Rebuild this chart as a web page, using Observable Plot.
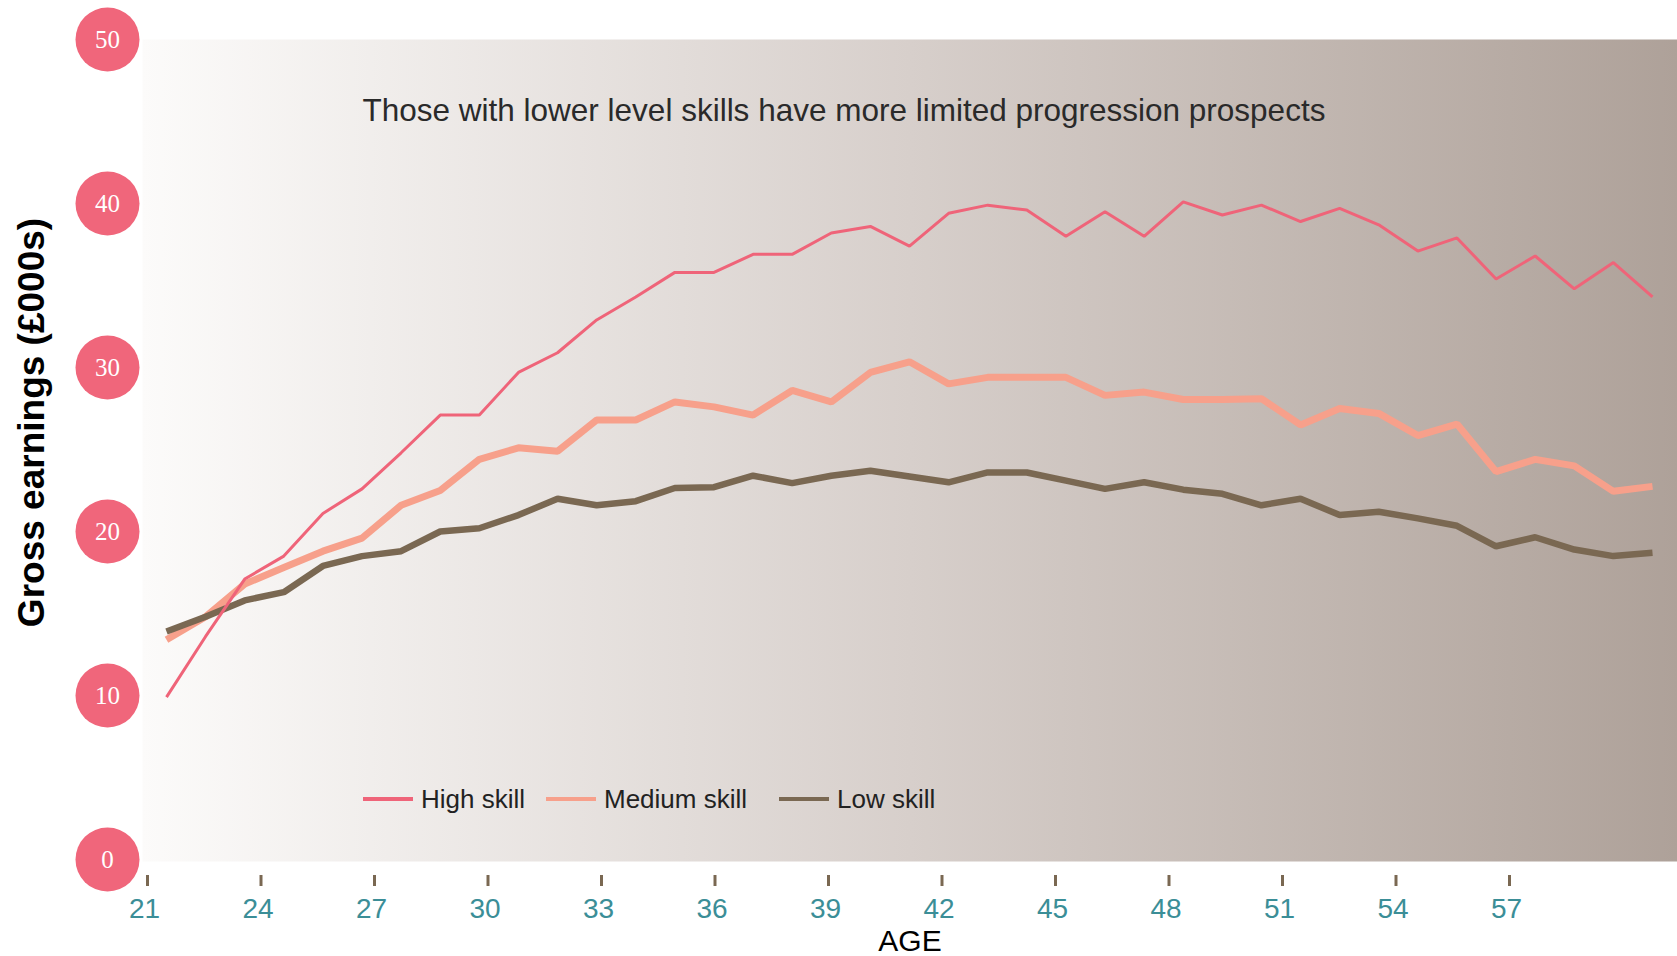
<!DOCTYPE html>
<html>
<head>
<meta charset="utf-8">
<script src="https://cdn.jsdelivr.net/npm/d3@7"></script>
<script src="https://cdn.jsdelivr.net/npm/@observablehq/plot@0.6"></script>
<style>
  html, body { margin: 0; padding: 0; background: #ffffff; }
  #wrap { position: relative; width: 1677px; height: 956px; overflow: hidden; font-family: "Liberation Sans", Arial, sans-serif; }
  #wrap > svg, #wrap > figure { position: absolute; left: 0; top: 0; margin: 0; }
  .leg { position: absolute; display: flex; align-items: center; font-size: 26px; color: #222; white-space: nowrap; }
  .leg .sw { width: 50px; height: 4px; margin-right: 8px; }
</style>
</head>
<body>
<svg width="0" height="0" style="position:absolute">
  <defs>
    <linearGradient id="bgGrad" x1="0" y1="0" x2="1" y2="0">
      <stop offset="0" stop-color="#fcfbfa"/>
      <stop offset="0.5" stop-color="#d7cfcb"/>
      <stop offset="1" stop-color="#aea199"/>
    </linearGradient>
  </defs>
</svg>
<div id="wrap"></div>
<script>
// ---- data ----
const ages = [21,22,23,24,25,26,27,28,29,30,31,32,33,34,35,36,37,38,39,40,41,42,43,44,45,46,47,48,49,50,51,52,53,54,55,56,57,58,59];
const highSkill = [9.9,13.6,17.1,18.5,21.1,22.6,24.8,27.1,27.1,29.7,30.9,32.9,34.3,35.8,35.8,36.9,36.9,38.2,38.6,37.4,39.4,39.9,39.6,38.0,39.5,38.0,40.1,39.3,39.9,38.9,39.7,38.7,37.1,37.9,35.4,36.8,34.8,36.4,34.3];
const mediumSkill = [13.4,14.8,16.8,17.8,18.8,19.6,21.6,22.5,24.4,25.1,24.9,26.8,26.8,27.9,27.6,27.1,28.6,27.9,29.7,30.35,29.0,29.4,29.4,29.4,28.3,28.5,28.05,28.05,28.1,26.5,27.5,27.2,25.85,26.55,23.65,24.4,24.0,22.45,22.75];
const lowSkill = [13.9,14.8,15.8,16.3,17.9,18.5,18.8,20.0,20.2,21.0,22.0,21.6,21.85,22.65,22.7,23.4,22.95,23.4,23.7,23.35,23.0,23.6,23.6,23.1,22.6,23.0,22.55,22.3,21.6,22.0,21.0,21.2,20.8,20.35,19.1,19.65,18.9,18.5,18.7];
const seriesNames = ["High skill", "Medium skill", "Low skill"];
const yTicks = [0, 10, 20, 30, 40, 50];
const xTicks = [21,24,27,30,33,36,39,42,45,48,51,54,57];
const titleText = "Those with lower level skills have more limited progression prospects";
const yLabel = "Gross earnings (£000s)";
const xLabel = "AGE";

const colors = {"High skill": "#ef6479", "Medium skill": "#f7a08b", "Low skill": "#7a6852"};
const widths = {"High skill": 3, "Medium skill": 7, "Low skill": 6.5};

const table = (vals) => ages.map((a, i) => ({age: a, value: vals[i]}));
const highT = table(highSkill), medT = table(mediumSkill), lowT = table(lowSkill);

const font = "Liberation Sans, Arial, sans-serif";

const lineOpts = (name) => ({
  x: "age", y: "value", stroke: colors[name], strokeWidth: widths[name],
  strokeLinejoin: "miter", strokeLinecap: "butt", curve: "linear"
});

const main = Plot.plot({
  width: 1677, height: 956,
  marginLeft: 142, marginRight: 0, marginTop: 39, marginBottom: 95,
  x: {domain: [21, 59], range: [166, 1652], axis: null},
  y: {domain: [0, 50], range: [859, 39], axis: null},
  style: {fontFamily: font, background: "white"},
  marks: [
    Plot.frame({fill: "url(#bgGrad)", stroke: null}),
    Plot.text([titleText], {frameAnchor: "top-left", dx: 220, dy: 71, textAnchor: "start", lineAnchor: "middle", fontSize: 31.5, fill: "#2a2a2a"}),
    Plot.line(medT, lineOpts("Medium skill")),
    Plot.line(lowT, lineOpts("Low skill")),
    Plot.line(highT, lineOpts("High skill")),
    Plot.dot(yTicks, {y: d => d, frameAnchor: "left", dx: -35, r: 32, fill: "#f0667b", stroke: null}),
    Plot.text(yTicks, {y: d => d, text: d => String(d), frameAnchor: "left", dx: -35, textAnchor: "middle", lineAnchor: "middle", fill: "white", fontSize: 25, fontFamily: "Liberation Serif, serif"}),
    Plot.text([yLabel], {frameAnchor: "left", dx: -110, dy: -28, rotate: -90, textAnchor: "middle", lineAnchor: "middle", fontSize: 37, fontWeight: "bold", fill: "#000"})
  ]
});

const axis = Plot.plot({
  width: 1677, height: 956,
  marginLeft: 142, marginRight: 0, marginTop: 875, marginBottom: 70,
  x: {domain: [21, 57], range: [147, 1509], axis: null},
  style: {fontFamily: font, background: "transparent"},
  marks: [
    Plot.tickX(xTicks, {x: d => d, stroke: "#7a6852", strokeWidth: 3}),
    Plot.text(xTicks, {x: d => d, text: d => String(d), frameAnchor: "bottom", dy: 23, dx: -3, textAnchor: "middle", lineAnchor: "middle", fill: "#3b8e97", fontSize: 28}),
    Plot.text([xLabel], {frameAnchor: "bottom", dy: 55, textAnchor: "middle", lineAnchor: "middle", fill: "#000", fontSize: 30})
  ]
});

const wrap = document.getElementById("wrap");
wrap.appendChild(main);
wrap.appendChild(axis);

// legend (inside plot area, HTML overlay)
const legLefts = [363, 546, 779];
seriesNames.forEach((name, i) => {
  const item = document.createElement("div");
  item.className = "leg";
  item.style.left = legLefts[i] + "px";
  item.style.top = (799 - 16) + "px";
  item.style.height = "32px";
  const sw = document.createElement("span");
  sw.className = "sw";
  sw.style.background = colors[name];
  const tx = document.createElement("span");
  tx.textContent = name;
  item.appendChild(sw);
  item.appendChild(tx);
  wrap.appendChild(item);
});
</script>
</body>
</html>
